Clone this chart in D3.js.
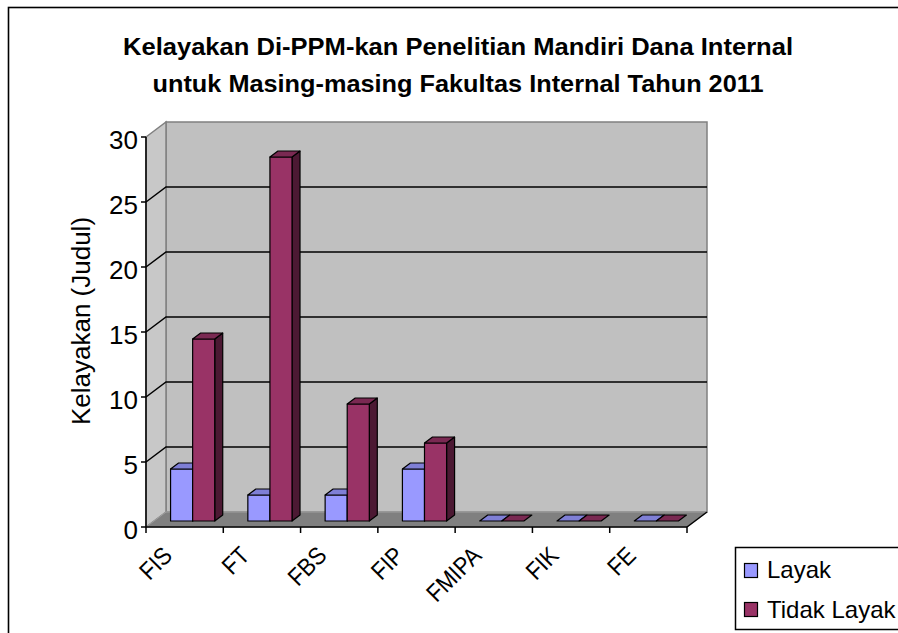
<!DOCTYPE html>
<html><head><meta charset="utf-8">
<script src="https://cdn.jsdelivr.net/npm/d3@7"></script>
<style>
html,body{margin:0;padding:0;background:#fff;}
svg text{font-family:"Liberation Sans",Arial,sans-serif;fill:#000;}
</style></head>
<body><svg id="c" width="898" height="633"></svg>
<script>
const titleLines = ["Kelayakan Di-PPM-kan Penelitian Mandiri Dana Internal", "untuk Masing-masing Fakultas Internal Tahun 2011"];
const yTitle = "Kelayakan (Judul)";
const categories = ["FIS","FT","FBS","FIP","FMIPA","FIK","FE"];
const seriesNames = ["Layak","Tidak Layak"];
const layak = [4,2,2,4,0,0,0];
const tidakLayak = [14,28,9,6,0,0,0];
const yTicks = [0,5,10,15,20,25,30];

const series = [layak, tidakLayak];
const front = ["#9999FF","#993366"];
const topC  = ["#7F7FD6","#7A2952"];
const sideC = ["#5F5FA0","#4C1933"];

const svg = d3.select("#c");
// outer border
svg.append("rect").attr("x",8.5).attr("y",7.5).attr("width",900).attr("height",640)
  .attr("fill","#fff").attr("stroke","#000").attr("stroke-width",1.6);

// title
const titleW = [670, 611];
svg.append("g").selectAll("text").data(titleLines).join("text")
  .attr("x",458).attr("y",(d,i)=>55+i*37).attr("text-anchor","middle")
  .style("font-weight","bold").style("font-size","24px")
  .attr("textLength",(d,i)=>titleW[i]).attr("lengthAdjust","spacingAndGlyphs")
  .text(d=>d);

const X0 = 146, X1 = 687;
const DX = 20, DY = -15;
const y = d3.scaleLinear().domain([0,30]).range([527,137]);
const x = d3.scaleBand().domain(categories).range([X0,X1]);
const g = svg.append("g");
const pt = (a)=>a.map(p=>p.join(",")).join(" ");

// back wall
g.append("polygon").attr("points",pt([[X0+DX,y(30)+DY],[X1+DX,y(30)+DY],[X1+DX,y(0)+DY],[X0+DX,y(0)+DY]]))
  .attr("fill","#C0C0C0").attr("stroke","#808080").attr("stroke-width",1.5);
// left wall
g.append("polygon").attr("points",pt([[X0,y(30)],[X0+DX,y(30)+DY],[X0+DX,y(0)+DY],[X0,y(0)]]))
  .attr("fill","#C8C8C8").attr("stroke","#808080").attr("stroke-width",1.5);
// floor
g.append("polygon").attr("points",pt([[X0,y(0)],[X1,y(0)],[X1+DX,y(0)+DY],[X0+DX,y(0)+DY]]))
  .attr("fill","#808080").attr("stroke","#A0A0A0").attr("stroke-width",1);
g.append("line").attr("x1",X1).attr("y1",y(0)).attr("x2",X1+DX).attr("y2",y(0)+DY)
  .attr("stroke","#000").attr("stroke-width",1.5);

// gridlines
const gl = yTicks.filter(t=>t>0 && t<30);
g.selectAll(".gl").data(gl).join("polyline").attr("class","gl")
  .attr("points",d=>pt([[X0,y(d)],[X0+DX,y(d)+DY],[X1+DX,y(d)+DY]]))
  .attr("fill","none").attr("stroke","#000").attr("stroke-width",1.5);

// bars
const f0 = 0.4, fd = 0.4;
const inner = d3.scaleBand().domain([0,1]).range([0,x.bandwidth()]).paddingOuter(0.75).paddingInner(0);
categories.forEach((c,ci)=>{
  series.forEach((s,si)=>{
    const v = s[ci];
    const xl = x(c)+inner(si)+f0*DX, xr = xl+inner.bandwidth();
    const yb = y(0)+f0*DY, yt = y(v)+f0*DY;
    const ox = fd*DX, oy = fd*DY;
    const bg = g.append("g").attr("stroke","#000").attr("stroke-width",1.2).attr("stroke-linejoin","round");
    if (v>0){
      bg.append("polygon").attr("points",pt([[xr,yb],[xr+ox,yb+oy],[xr+ox,yt+oy],[xr,yt]])).attr("fill",sideC[si]);
      bg.append("rect").attr("x",xl).attr("y",yt).attr("width",xr-xl).attr("height",yb-yt).attr("fill",front[si]);
    }
    bg.append("polygon").attr("points",pt([[xl,yt],[xr,yt],[xr+ox,yt+oy],[xl+ox,yt+oy]])).attr("fill",topC[si]);
  });
});

// axes
const ax = svg.append("g").attr("stroke","#000").attr("stroke-width",1.5);
ax.append("line").attr("x1",X0).attr("x2",X0).attr("y1",y(30)).attr("y2",y(0));
ax.append("line").attr("x1",X0).attr("x2",X1).attr("y1",y(0)).attr("y2",y(0));
ax.selectAll(".yt").data(yTicks).join("line").attr("x1",X0-5).attr("x2",X0).attr("y1",d=>y(d)).attr("y2",d=>y(d));
const xb = categories.map(c=>x(c)).concat([X1]);
ax.selectAll(".xt").data(xb).join("line").attr("x1",d=>d).attr("x2",d=>d).attr("y1",y(0)).attr("y2",y(0)+6);

svg.selectAll(".yl").data(yTicks).join("text").attr("class","yl")
  .attr("x",X0-8).attr("y",d=>y(d)+11.5).attr("text-anchor","end").style("font-size","26px").text(d=>d);

svg.selectAll(".xl").data(categories).join("text").attr("class","xl")
  .attr("text-anchor","end").style("font-size","22px")
  .attr("transform",d=>`translate(${x(d)+x.bandwidth()/2-11},${y(0)+30}) rotate(-45) scale(1,1.12)`).text(d=>d);

svg.append("text").attr("transform","translate(90,321) rotate(-90)").attr("text-anchor","middle")
  .style("font-size","26px").text(yTitle);

// legend
const lg = svg.append("g");
lg.append("rect").attr("x",735.5).attr("y",547.5).attr("width",200).attr("height",82)
  .attr("fill","#fff").attr("stroke","#000").attr("stroke-width",1.5);
seriesNames.forEach((n,i)=>{
  lg.append("rect").attr("x",744.5).attr("y",563.5+i*39).attr("width",13).attr("height",14)
    .attr("fill",front[i]).attr("stroke","#000").attr("stroke-width",1.2);
  lg.append("text").attr("x",767).attr("y",578+i*40).style("font-size","24px").text(n);
});
</script></body></html>
